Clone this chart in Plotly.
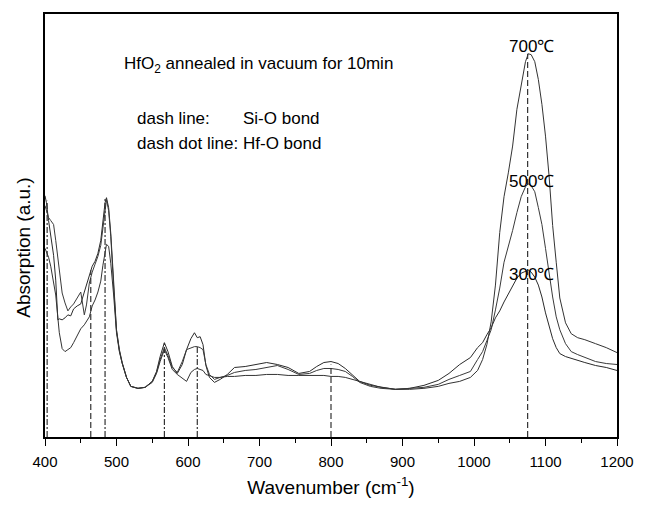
import plotly.graph_objects as go

# Wavenumber grid (cm^-1)
wavenumber = [400, 402, 405, 408, 412, 415, 418, 420, 424, 428, 432, 436, 440, 445, 450, 455, 458, 462, 466, 470,
              474, 478, 481, 484, 486, 489, 492, 496, 500, 504, 508, 514, 520, 530, 540, 550, 556, 561, 567, 572,
              578, 585, 592, 598, 604, 609, 613, 617, 621, 625, 630, 637, 645, 655, 665, 680, 695, 710, 725, 740,
              755, 770, 780, 790, 800, 810, 820, 830, 840, 855, 870, 890, 910, 930, 950, 965, 980, 995, 1005, 1012,
              1018, 1024, 1030, 1036, 1042, 1048, 1054, 1060, 1066, 1072, 1076, 1080, 1085, 1090, 1095, 1100, 1105, 1110, 1115, 1120,
              1128, 1136, 1145, 1155, 1170, 1185, 1200]

abs_300 = [2.43, 2.36, 2.18, 2.03, 1.83, 1.58, 1.18, 1.19, 1.18, 1.20, 1.23, 1.22, 1.29, 1.32, 1.34, 1.46, 1.53, 1.64, 1.72, 1.77,
           1.85, 1.98, 2.17, 2.36, 2.41, 2.31, 2.05, 1.53, 1.08, 0.88, 0.75, 0.60, 0.51, 0.49, 0.50, 0.56, 0.66, 0.81, 0.95, 0.86,
           0.71, 0.64, 0.73, 0.88, 0.99, 1.05, 1.00, 1.01, 0.93, 0.72, 0.60, 0.55, 0.58, 0.63, 0.70, 0.71, 0.73, 0.75, 0.73, 0.70,
           0.64, 0.66, 0.71, 0.75, 0.76, 0.74, 0.69, 0.62, 0.56, 0.52, 0.50, 0.48, 0.49, 0.52, 0.57, 0.64, 0.73, 0.80, 0.90, 0.95,
           1.03, 1.10, 1.20, 1.27, 1.36, 1.44, 1.53, 1.60, 1.65, 1.67, 1.68, 1.66, 1.61, 1.53, 1.41, 1.25, 1.11, 0.99, 0.90, 0.84,
           0.81, 0.79, 0.77, 0.75, 0.72, 0.70, 0.67]

abs_500 = [2.33, 2.27, 2.21, 2.18, 2.14, 1.98, 1.80, 1.63, 1.45, 1.35, 1.27, 1.31, 1.34, 1.40, 1.46, 1.23, 1.33, 1.55, 1.66, 1.74,
           1.82, 1.93, 2.12, 2.30, 2.39, 2.28, 2.02, 1.51, 1.07, 0.87, 0.74, 0.60, 0.51, 0.49, 0.50, 0.56, 0.65, 0.78, 0.90, 0.82,
           0.70, 0.65, 0.76, 0.88, 0.90, 0.91, 0.91, 0.90, 0.88, 0.73, 0.63, 0.58, 0.60, 0.62, 0.65, 0.67, 0.68, 0.70, 0.72, 0.68,
           0.63, 0.64, 0.67, 0.69, 0.69, 0.68, 0.66, 0.61, 0.55, 0.51, 0.49, 0.48, 0.49, 0.50, 0.53, 0.58, 0.62, 0.66, 0.78, 0.86,
           0.97, 1.08, 1.28, 1.50, 1.76, 1.91, 2.08, 2.26, 2.42, 2.52, 2.55, 2.53, 2.47, 2.31, 2.14, 1.90, 1.63, 1.41, 1.21, 1.08,
           0.94, 0.86, 0.83, 0.80, 0.76, 0.74, 0.73]

abs_700 = [1.90, 1.86, 1.81, 1.72, 1.56, 1.43, 1.20, 1.05, 0.89, 0.86, 0.88, 0.90, 0.95, 1.02, 1.09, 1.13, 1.16, 1.21, 1.32, 1.38,
           1.46, 1.57, 1.73, 1.88, 1.94, 1.92, 1.75, 1.43, 1.05, 0.86, 0.74, 0.60, 0.51, 0.49, 0.50, 0.55, 0.64, 0.76, 0.88, 0.80,
           0.68, 0.63, 0.59, 0.56, 0.65, 0.68, 0.69, 0.68, 0.67, 0.63, 0.62, 0.60, 0.60, 0.61, 0.61, 0.62, 0.62, 0.63, 0.63, 0.62,
           0.62, 0.62, 0.62, 0.62, 0.61, 0.61, 0.60, 0.58, 0.56, 0.53, 0.50, 0.48, 0.48, 0.49, 0.51, 0.54, 0.56, 0.60, 0.67, 0.78,
           0.93, 1.16, 1.53, 2.06, 2.42, 2.66, 2.93, 3.30, 3.56, 3.78, 3.86, 3.85, 3.78, 3.60, 3.35, 3.03, 2.63, 2.13, 1.76, 1.40,
           1.15, 1.04, 1.00, 0.98, 0.94, 0.90, 0.85]

# Reference bond positions (cm^-1) and the height their marker lines reach
si_o_pos = [464, 800, 1075]
si_o_top = [1.68, 0.73, 3.86]
hf_o_pos = [403, 484, 567, 613]
hf_o_top = [2.38, 2.40, 0.95, 0.91]

curve_labels = ["300℃", "500℃", "700℃"]
label_shift = [-4, 2, 7]
main_peak = 1076  # Si-O main band used for temperature labels

FONT = "Liberation Sans, Arial, Helvetica, sans-serif"

fig = go.Figure()

for ys, col in zip([abs_300, abs_500, abs_700], ["#2a2a2a", "#3a3a3a", "#333333"]):
    fig.add_trace(go.Scatter(x=wavenumber, y=ys, mode="lines",
                             line=dict(color=col, width=1), showlegend=False, hoverinfo="skip"))


def seg(pos, top):
    xs, ys = [], []
    for p, t in zip(pos, top):
        xs += [p, p, None]
        ys += [0, t, None]
    return xs, ys


xs, ys = seg(si_o_pos, si_o_top)
fig.add_trace(go.Scatter(x=xs, y=ys, mode="lines", line=dict(color="#333333", width=1.2, dash="6px,3px"),
                         showlegend=False, hoverinfo="skip"))
xs, ys = seg(hf_o_pos, hf_o_top)
fig.add_trace(go.Scatter(x=xs, y=ys, mode="lines", line=dict(color="#333333", width=1.2, dash="6px,2px,2px,2px"),
                         showlegend=False, hoverinfo="skip"))

# peak labels at the main Si-O band
i = wavenumber.index(main_peak)
for ys, lab, sh in zip([abs_300, abs_500, abs_700], curve_labels, label_shift):
    fig.add_annotation(x=main_peak + 4, y=ys[i], text=lab, showarrow=False, yshift=sh,
                       xanchor="center", yanchor="middle", font=dict(family=FONT, size=17, color="black"))

notes = [
    ("HfO<sub>2</sub> annealed in vacuum for 10min", 0.134, 0.880),
    ("dash line:", 0.158, 0.754),
    ("Si-O bond", 0.342, 0.754),
    ("dash dot line:", 0.158, 0.695),
    ("Hf-O bond", 0.342, 0.695),
]
for t, x, y in notes:
    fig.add_annotation(xref="paper", yref="paper", x=x, y=y, text=t, showarrow=False,
                       xanchor="left", yanchor="middle", font=dict(family=FONT, size=17, color="black"))

# y-axis title (placed slightly below the plot centre, as in the reference)
fig.add_annotation(xref="paper", yref="paper", x=-0.038, y=0.448, text="Absorption (a.u.)", textangle=-90,
                   showarrow=False, xanchor="center", yanchor="middle", font=dict(family=FONT, size=19, color="black"))

fig.update_layout(
    width=646, height=507,
    margin=dict(l=45, r=26, t=12, b=69),
    paper_bgcolor="white", plot_bgcolor="white",
    font=dict(family=FONT, color="black"),
    xaxis=dict(range=[400, 1200], tick0=400, dtick=100, ticks="outside", ticklen=7, tickwidth=1.2,
               tickcolor="black", showline=True, linewidth=1.5, linecolor="black", mirror=True,
               showgrid=False, zeroline=False, tickfont=dict(size=15), ticklabelstandoff=3,
               minor=dict(dtick=50, ticks="outside", ticklen=4, tickwidth=1.2, tickcolor="black"),
               title=dict(text="Wavenumber (cm<sup>-1</sup>)", font=dict(size=19), standoff=12)),
    yaxis=dict(range=[0, 4.26], showticklabels=False, ticks="", showline=True, linewidth=1.5,
               linecolor="black", mirror=True, showgrid=False, zeroline=False),
)

fig.write_html("out.html")
